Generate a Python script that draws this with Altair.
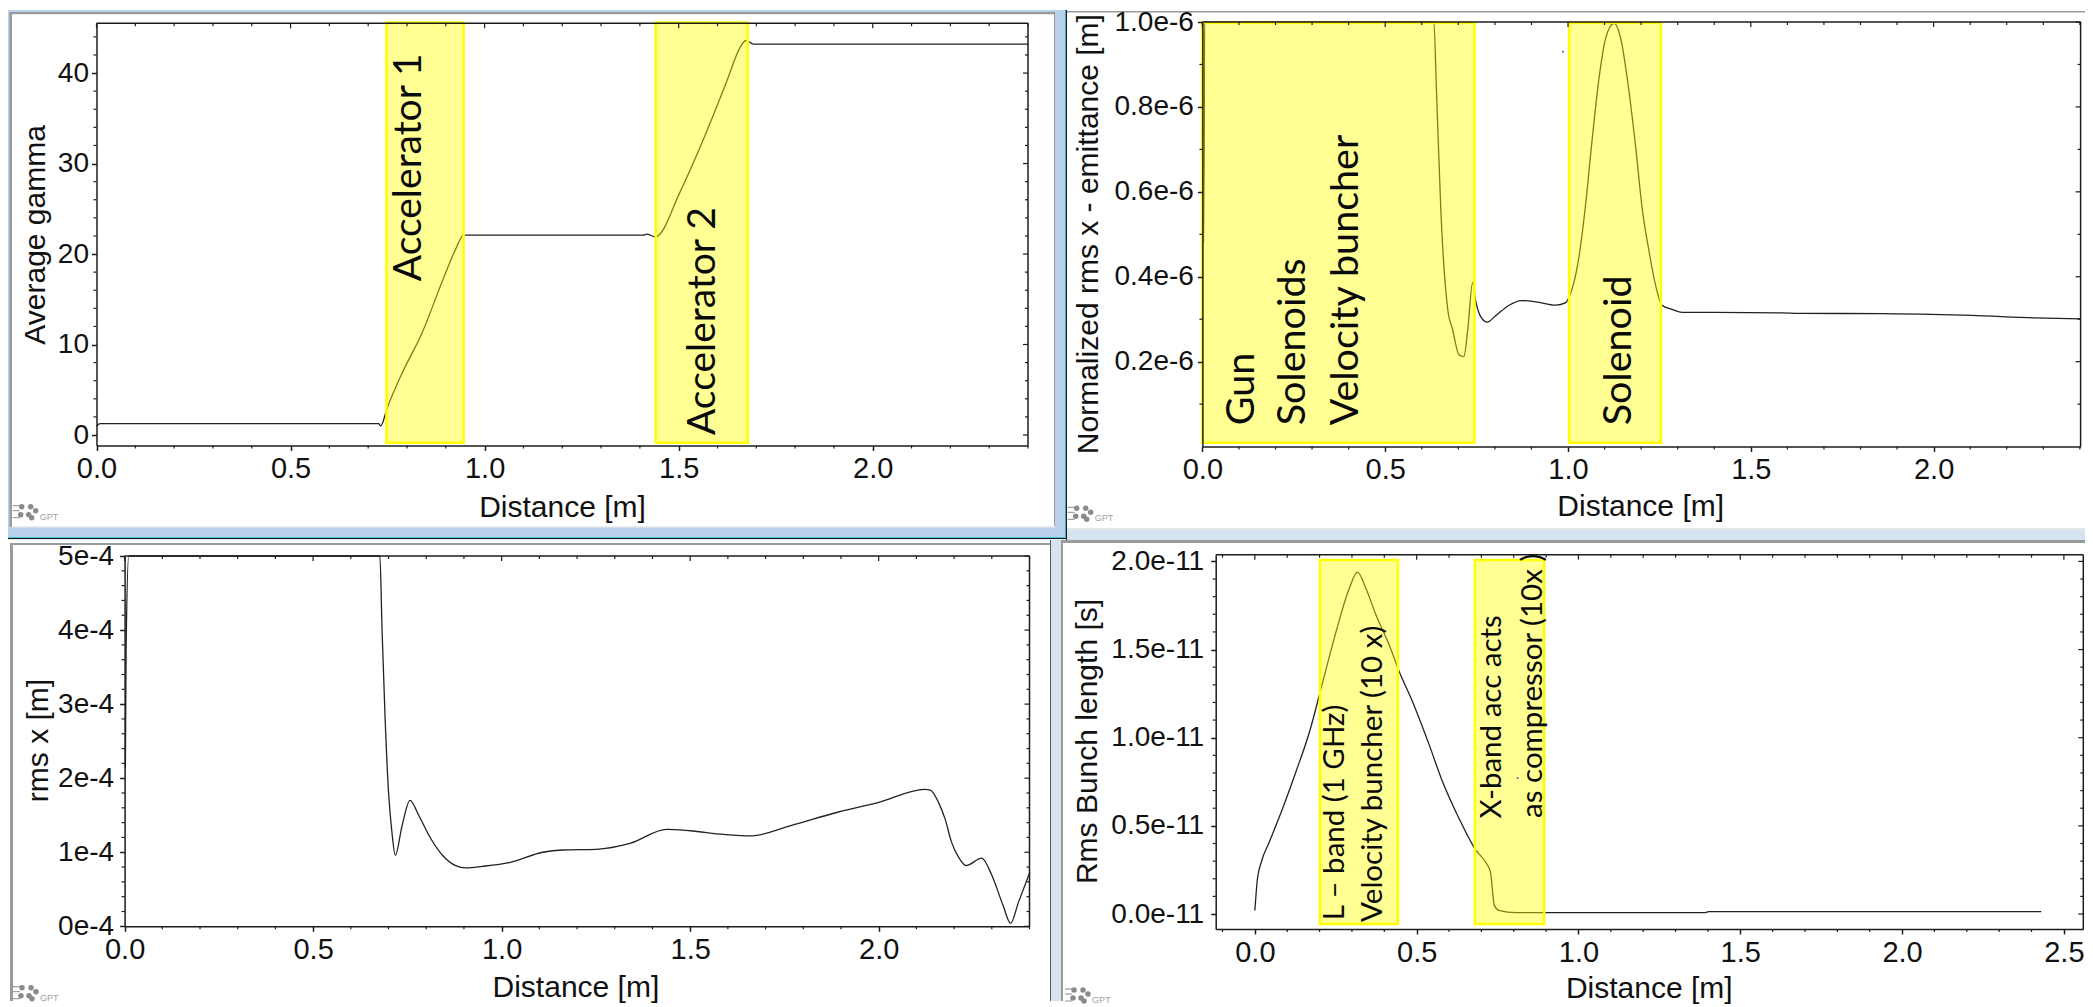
import altair as alt
import numpy as np
import pandas as pd

# ---------- series ----------
gamma_x = [0.0, 0.01, 0.727, 0.732, 0.749, 0.787, 0.839, 0.891, 0.925, 0.946, 1.409, 1.417, 1.44, 1.504, 1.564, 1.624, 1.659, 1.673, 1.693, 2.401]
gamma_y = [1.0, 1.25, 1.25, 1.0, 3.0, 6.8, 11.3, 17.0, 20.5, 22.1, 22.1, 22.2, 21.9, 26.9, 32.7, 39.1, 42.9, 43.6, 43.2, 43.2]

emit_x = [0.003, 0.005, 0.006, None, 0.633, 0.64, 0.652, 0.672, 0.684, 0.702, 0.715, 0.726, 0.739, 0.748, 0.762, 0.779, 0.803, 0.839, 0.872, 0.912, 0.966, 0.994, 1.004, 1.03, 1.048, 1.066, 1.085, 1.103, 1.126, 1.145, 1.163, 1.185, 1.203, 1.221, 1.239, 1.257, 1.285, 1.312, 1.403, 1.585, 1.631, 1.858, 2.104, 2.277, 2.402]
emit_y = [0.48, 0.7, 1.0, None, 1.0, 0.844, 0.56, 0.317, 0.277, 0.216, 0.212, 0.277, 0.386, 0.341, 0.305, 0.293, 0.309, 0.333, 0.344, 0.341, 0.333, 0.339, 0.354, 0.447, 0.569, 0.723, 0.869, 0.962, 0.997, 0.958, 0.861, 0.706, 0.56, 0.463, 0.382, 0.333, 0.323, 0.316, 0.316, 0.315, 0.314, 0.313, 0.309, 0.303, 0.301]

rms_x = [0.002, 0.004, 0.011, None, 0.677, 0.683, 0.691, 0.7, 0.709, 0.718, 0.736, 0.757, 0.78, 0.807, 0.843, 0.878, 0.905, 0.949, 1.02, 1.109, 1.162, 1.251, 1.34, 1.438, 1.5, 1.589, 1.66, 1.767, 1.891, 1.998, 2.122, 2.137, 2.158, 2.176, 2.193, 2.211, 2.232, 2.273, 2.3, 2.33, 2.35, 2.371, 2.401]
rms_y = [2.13, 3.75, 5.0, None, 5.0, 3.97, 2.8, 1.81, 1.27, 0.96, 1.36, 1.7, 1.5, 1.23, 0.96, 0.82, 0.79, 0.81, 0.86, 1.0, 1.03, 1.04, 1.12, 1.31, 1.29, 1.24, 1.22, 1.36, 1.54, 1.67, 1.85, 1.84, 1.68, 1.45, 1.14, 0.94, 0.82, 0.92, 0.69, 0.28, 0.04, 0.33, 0.73]

bunch_x = [0.0, 0.008, 0.02, 0.045, 0.086, 0.127, 0.169, 0.21, 0.251, 0.292, 0.317, 0.343, 0.374, 0.415, 0.446, 0.487, 0.539, 0.58, 0.631, 0.683, 0.713, 0.728, 0.74, 0.754, 0.806, 1.392, 1.402, 2.43]
bunch_y = [0.02, 0.2, 0.295, 0.41, 0.6, 0.807, 1.034, 1.318, 1.602, 1.848, 1.939, 1.848, 1.697, 1.527, 1.375, 1.205, 0.958, 0.75, 0.542, 0.362, 0.295, 0.239, 0.049, 0.021, 0.008, 0.008, 0.013, 0.013]

# ---------- text ----------
X_TITLE = "Distance [m]"
FRAME = "#1c1c1c"
BLUE_D = "#b9d1ea"
BLUE_L = "#d6e4f2"
GREY = "#9a9a9a"
CYAN = "#3fc4d8"

logo_dots_x = [9, 18, 23, 16, 8, 19]
logo_dots_y = [3, 3, 7, 11, 11, 14]
logo_bars_y = [2, 7, 14]

one = pd.DataFrame({"a": [0]})

# grid cells of the concat (page px)
COL = [8, 1051, 2085]
ROW = [8, 538, 999]


def panel(col, row, p, cell, boxes, curve, labels, label_size, xtick, ytick, xminor, yminor,
          ydom, xdom, ytitle, ytitle_pos, xtitle_pos, ylab, ylab_pad, logo, dots=None):
    left, right, top, bottom = p
    ox, oy = COL[col], ROW[row]
    gw, gh = COL[col + 1] - ox, ROW[row + 1] - oy
    w, h = right - left, bottom - top
    L, R, T, B = left - ox, right - ox, top - oy, bottom - oy
    sx = alt.Scale(domain=xdom, range=[L, R], nice=False, zero=False)
    sy = alt.Scale(domain=ydom, range=[B, T], nice=False, zero=False)
    ax_x = alt.Axis(
        title=X_TITLE, values=xtick, format=".1f", grid=False, zindex=1, offset=B - gh,
        tickSize=5, tickWidth=1.5, tickColor=FRAME, domainColor=FRAME, domainWidth=1.5,
        labelFont="Liberation Sans", labelFontSize=29, labelColor="#111111", labelPadding=4,
        titleFont="Liberation Sans", titleFontSize=30, titleFontWeight="normal", titleColor="#111111",
        titleX=xtitle_pos[0] - ox, titleY=xtitle_pos[1] - bottom, titleBaseline="middle",
        labelOverlap=False, labelFlush=False)
    ax_y = alt.Axis(
        title=ytitle, values=ytick, labelExpr=ylab, grid=False, zindex=1, offset=-L,
        tickSize=5, tickWidth=1.5, tickColor=FRAME, domainColor=FRAME, domainWidth=1.5,
        labelFont="Liberation Sans", labelFontSize=28, labelColor="#111111", labelPadding=ylab_pad,
        titleFont="Liberation Sans", titleFontSize=30, titleFontWeight="normal", titleColor="#111111",
        titleX=ytitle_pos[0] - left, titleY=ytitle_pos[1] - oy, titleBaseline="middle",
        titleAngle=270, labelOverlap=False, labelFlush=False)

    def X(f):
        return alt.X(f, scale=sx, axis=ax_x)

    def Y(f):
        return alt.Y(f, scale=sy, axis=ax_y)

    layers = []

    def rect(x0, x1, y0, y1, color):
        return alt.Chart(one).mark_rect(color=color).encode(
            x=alt.value(x0 - ox), x2=alt.value(x1 - ox),
            y=alt.value(y0 - oy), y2=alt.value(y1 - oy))

    for x0, x1, y0, y1, color in cell:
        layers.append(rect(x0, x1, y0, y1, color))

    # curve with real axes
    df = pd.DataFrame({"x": curve[0], "y": curve[1]}, dtype=float)
    df = df.astype(object).where(df.notna(), None)
    layers.append(
        alt.Chart(alt.Data(values=df.to_dict("records"))).mark_line(
            color="#222222", strokeWidth=1.3, interpolate="monotone").encode(x=X("x:Q"), y=Y("y:Q"))
    )

    # yellow boxes
    if boxes:
        bdf = pd.DataFrame(boxes, columns=["x0", "x1", "y0", "y1"])
        layers.append(
            alt.Chart(bdf).mark_rect(fill="#ffff00", fillOpacity=0.42, stroke="#ffff00", strokeWidth=2.5).encode(
                x=X("x0:Q"), x2="x1:Q", y=Y("y0:Q"), y2="y1:Q")
        )

    # annotations
    if labels:
        tdf = pd.DataFrame(labels, columns=["x", "y", "t"])
        layers.append(
            alt.Chart(tdf).mark_text(angle=270, align="left", baseline="middle", font="Lato",
                                     fontSize=label_size, color="#0a0a0a").encode(
                x=X("x:Q"), y=Y("y:Q"), text="t:N")
        )

    if dots:
        ddf = pd.DataFrame(dots, columns=["x", "y"])
        layers.append(alt.Chart(ddf).mark_circle(size=4, color="#4a5fc0", opacity=1).encode(
            x=X("x:Q"), y=Y("y:Q")))

    # ticks on all sides
    def xticks(vals, a, b):
        return alt.Chart(pd.DataFrame({"v": vals})).mark_rule(color=FRAME, strokeWidth=1.2).encode(
            x=X("v:Q"), y=alt.value(a), y2=alt.value(b))

    def yticks(vals, a, b):
        return alt.Chart(pd.DataFrame({"v": vals})).mark_rule(color=FRAME, strokeWidth=1.2).encode(
            y=Y("v:Q"), x=alt.value(a), x2=alt.value(b))

    layers += [xticks(xtick, T, T + 5), xticks(xminor, T, T + 3), xticks(xminor, B, B + 3),
               yticks(ytick, R - 5, R), yticks(yminor, R - 3, R), yticks(yminor, L - 3, L)]
    # frame top / right
    layers.append(alt.Chart(one).mark_rule(color=FRAME, strokeWidth=1.5).encode(
        x=alt.value(L), x2=alt.value(R), y=alt.value(T)))
    layers.append(alt.Chart(one).mark_rule(color=FRAME, strokeWidth=1.5).encode(
        x=alt.value(R), y=alt.value(T), y2=alt.value(B)))

    # GPT logo, placed through the panel's own scales
    def dx(px):
        return xdom[0] + (px - left) / w * (xdom[1] - xdom[0])

    def dy(py):
        return ydom[0] + (bottom - py) / h * (ydom[1] - ydom[0])

    ax, ay = logo
    ld = pd.DataFrame({"x": [dx(ax + v) for v in logo_dots_x], "y": [dy(ay + v) for v in logo_dots_y]})
    layers.append(alt.Chart(ld).mark_circle(size=30, color="#8a8a8a", opacity=1).encode(
        x=X("x:Q"), y=Y("y:Q")))
    lb = pd.DataFrame({"x": [dx(ax)] * 3, "x1": [dx(ax + 7)] * 3, "y": [dy(ay + v) for v in logo_bars_y]})
    layers.append(alt.Chart(lb).mark_rule(color="#8a8a8a", strokeWidth=1).encode(
        x=X("x:Q"), x2="x1:Q", y=Y("y:Q")))
    lt = pd.DataFrame({"x": [dx(ax + 27)], "y": [dy(ay + 13)], "t": ["GPT"]})
    layers.append(alt.Chart(lt).mark_text(align="left", baseline="middle", font="Liberation Sans",
                                          fontSize=9, color="#a0a0a0").encode(
        x=X("x:Q"), y=Y("y:Q"), text="t:N"))

    return alt.layer(*layers).properties(width=gw, height=gh)


xt = [0.0, 0.5, 1.0, 1.5, 2.0]
xm = [round(v, 1) for v in np.arange(0.1, 2.41, 0.1) if round(v * 10) % 5 != 0]

# page-coordinate furniture of the four windows
tl_cell = [
    (8, 1066, 8, 538, BLUE_D),
    (1065, 1065.8, 8, 537, CYAN), (1065.8, 1066, 8, 537, FRAME),
    (8, 1066, 535, 536, CYAN), (8, 1066, 536, 537.3, FRAME), (8, 1066, 537.3, 538, "#ffffff"),
    (9.5, 1055, 10, 525, GREY), (12, 1054, 12.3, 524, "#ffffff"), (12, 1055, 524, 525.5, "#ececec"),
]
tr_cell = [
    (1066, 2085, 8, 538, "#ffffff"), (1067, 2085, 9, 10.5, GREY),
    (1066, 1067, 8, 538, FRAME),
    (1067, 2085, 526, 527.5, "#e6e6e6"), (1067, 2085, 527.5, 538, BLUE_L),
]
bl_cell = [
    (8, 1051, 538, 999, "#ffffff"), (8, 10, 538, 541, "#ffffff"),
    (10, 1051, 541, 543, GREY), (10, 13, 541, 999, GREY),
    (1050, 1051, 538, 999, "#5a5a5a"),
]
br_cell = [
    (1051, 2085, 538, 999, "#ffffff"), (1051, 1061, 538, 999, BLUE_L),
    (1061, 2085, 538, 541, GREY), (1061, 1063, 538, 999, GREY),
]

TL = panel(
    0, 0, (96.5, 1028, 21.3, 443.5), tl_cell,
    [(0.747, 0.946, -0.86, 45.6), (1.441, 1.678, -0.86, 45.6)],
    (gamma_x, gamma_y),
    [(0.805, 17.0, "Accelerator 1"), (1.563, 0.0, "Accelerator 2")], 39,
    xt, [0, 10, 20, 30, 40], xm, [v for v in range(2, 45, 2) if v % 10],
    [-1.16, 45.5], [0.0, 2.4], "Average gamma", (35.5, 232.4), (562, 505),
    "format(datum.value,'d')", 3, (12.7, 501.7))

TR = panel(
    1, 0, (1202.4, 2080.6, 20, 444.6), tr_cell,
    [(0.0, 0.744, 0.009, 0.998), (1.003, 1.254, 0.009, 0.998)],
    (emit_x, emit_y),
    [(0.108, 0.05, "Gun"), (0.248, 0.05, "Solenoids"), (0.393, 0.05, "Velocity buncher"),
     (1.14, 0.05, "Solenoid")], 39.5,
    xt, [0.2, 0.4, 0.6, 0.8, 1.0], xm, [round(v, 2) for v in np.arange(0.1, 1.0, 0.1) if round(v * 10) % 2],
    [0.0, 1.0], [0.0, 2.402], "Normalized rms x - emittance [m]", (1088, 231.6), (1640.2, 504.5),
    "format(datum.value,'.1f')+'e-6'", 4, (1067.7, 503.3), dots=[(0.986, 0.93)])

BL = panel(
    0, 1, (124.6, 1029.5, 554, 924.3), bl_cell,
    [], (rms_x, rms_y), [], 36,
    xt, [0, 1, 2, 3, 4, 5], xm, [round(v, 1) for v in np.arange(0.2, 5.0, 0.2) if round(v * 5) % 5],
    [0.0, 5.0], [0.0, 2.4], "rms x [m]", (38.5, 738), (575.4, 985),
    "format(datum.value,'d')+'e-4'", 6, (13, 982.7))

BR = panel(
    1, 1, (1215.7, 2083.3, 552.7, 927), br_cell,
    [(0.201, 0.442, -0.057, 2.008), (0.68, 0.894, -0.057, 2.008)],
    (bunch_x, bunch_y),
    [(0.247, -0.036, "L \u2013 band (1 GHz)"), (0.364, -0.045, "Velocity buncher (10 x)"),
     (0.734, 0.542, "X-band acc acts"), (0.859, 0.545, "as compressor (10x )")], 29.5,
    [0.0, 0.5, 1.0, 1.5, 2.0, 2.5],
    [0.0, 0.5, 1.0, 1.5, 2.0],
    [round(v, 1) for v in np.arange(-0.1, 2.51, 0.1) if round(v * 10) % 5],
    [round(v, 1) for v in np.arange(0.1, 2.0, 0.1) if round(v * 10) % 5],
    [-0.085, 2.038], [-0.121, 2.56], "Rms Bunch length [s]", (1087.6, 739), (1648.8, 986.7),
    "format(datum.value,'.1f')+'e-11'", 7, (1065, 985), dots=[(0.812, 0.771)])

chart = alt.concat(TL, TR, BL, BR, columns=2, spacing=0, bounds="flush").properties(padding=0).configure_view(stroke=None)

chart.save("out.html", embed_options={"renderer": "svg", "actions": False})
